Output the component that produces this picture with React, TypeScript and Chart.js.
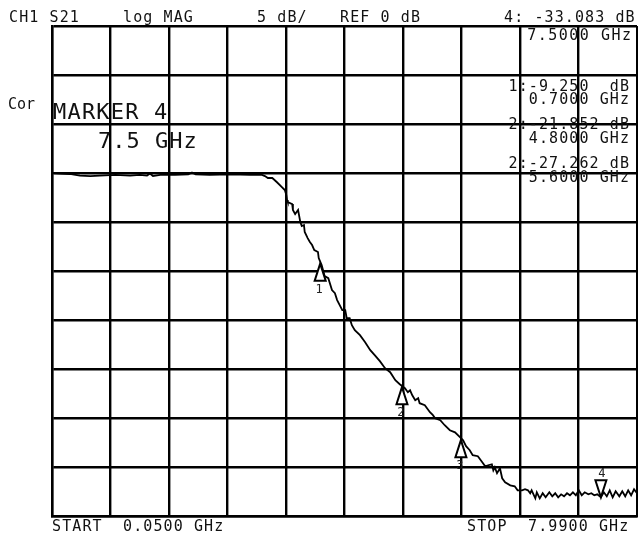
import React, { useEffect, useRef } from "react";
import { Chart, registerables } from "chart.js";

Chart.register(...registerables);

// Trace: S21 magnitude (dB) vs frequency (GHz)
const freqGHz = [
  0.05, 0.16, 0.29, 0.43, 0.57, 0.7, 0.91, 1.11, 1.24, 1.34, 1.38, 1.42, 1.52, 1.72, 1.9, 1.95, 2.0, 2.19, 2.47, 2.74,
  2.9, 2.94, 2.98, 3.04, 3.1, 3.17, 3.21, 3.23, 3.24, 3.25, 3.31, 3.32, 3.35, 3.39, 3.42, 3.44, 3.47, 3.48, 3.52, 3.55,
  3.58, 3.61, 3.66, 3.67, 3.71, 3.75, 3.8, 3.85, 3.89, 3.92, 3.99, 4.03, 4.05, 4.09, 4.12, 4.16, 4.23, 4.3, 4.37, 4.43,
  4.5, 4.57, 4.64, 4.71, 4.77, 4.84, 4.88, 4.91, 4.94, 4.98, 5.02, 5.04, 5.11, 5.18, 5.22, 5.25, 5.32, 5.38, 5.45, 5.52,
  5.59, 5.63, 5.67, 5.72, 5.76, 5.83, 5.89, 5.93, 5.97, 6.02, 6.04, 6.06, 6.09, 6.13, 6.16, 6.2, 6.27, 6.33, 6.37, 6.43,
  6.47, 6.51, 6.54, 6.56, 6.61, 6.63, 6.67, 6.71, 6.75, 6.8, 6.84, 6.88, 6.92, 6.96, 7.0, 7.04, 7.08, 7.12, 7.16, 7.2,
  7.24, 7.28, 7.33, 7.37, 7.41, 7.45, 7.5, 7.54, 7.58, 7.62, 7.66, 7.7, 7.75, 7.79, 7.83, 7.87, 7.91, 7.95, 7.99,
];
const s21dB = [
  0.0, -0.05, -0.1, -0.26, -0.31, -0.26, -0.2, -0.26, -0.2, -0.26, -0.05, -0.31, -0.2, -0.2, -0.15, 0.05, -0.15, -0.2, -0.15, -0.2,
  -0.2, -0.31, -0.51, -0.51, -0.92, -1.43, -1.74, -2.25, -2.76, -2.96, -3.17, -3.78, -4.19, -3.78, -5.0, -5.41, -5.31, -6.02, -6.64, -7.04,
  -7.35, -7.86, -8.07, -8.68, -9.4, -10.52, -10.73, -11.95, -12.26, -12.97, -13.99, -13.99, -14.81, -14.81, -15.53, -16.04, -16.55, -17.26, -18.08, -18.59,
  -19.2, -19.92, -20.33, -21.14, -21.55, -21.96, -22.37, -22.17, -22.68, -23.19, -22.98, -23.49, -23.7, -24.41, -24.71, -25.03, -25.23, -25.74, -26.25, -26.46,
  -26.97, -27.27, -27.88, -28.29, -28.8, -28.9, -29.52, -29.93, -29.82, -29.72, -30.34, -30.03, -30.64, -30.13, -31.15, -31.56, -31.87, -31.97, -32.38, -32.38,
  -32.27, -32.38, -32.68, -32.38, -33.2, -32.58, -33.2, -32.68, -33.09, -32.58, -32.99, -32.68, -33.09, -32.79, -32.99, -32.68, -32.89, -32.58, -32.89, -32.38,
  -32.89, -32.58, -32.79, -32.68, -32.89, -32.79, -33.08, -32.58, -32.99, -32.38, -33.09, -32.48, -32.99, -32.48, -32.99, -32.38, -32.89, -32.27, -32.68,
];

// Markers
const markerNumbers = ["1", "2", "3", "4"];
const markerFreqGHz = [3.69, 4.8, 5.6, 7.5];
const markerDB = [-9.25, -21.852, -27.262, -33.083];
const markerPointsDown = [false, false, false, true];

// Axis settings
const startGHz = 0.05;
const stopGHz = 7.99;
const refDB = 0;
const dbPerDiv = 5;
const divisions = 10;
const refDivisionFromTop = 3;

// Text labels
const headerLabels = ["CH1 S21", "log MAG", "5 dB/", "REF 0 dB", "4: -33.083 dB"];
const activeMarkerFreqLabel = "7.5000 GHz";
const markerReadouts = ["1:-9.250  dB", "0.7000 GHz", "2:-21.852 dB", "4.8000 GHz", "2:-27.262 dB", "5.6000 GHz"];
const corLabel = "Cor";
const markerTitle = "MARKER 4";
const markerFreqBig = "7.5 GHz";
const startLabels = ["START", "0.0500 GHz"];
const stopLabels = ["STOP", "7.9900 GHz"];

const MONO = '"DejaVu Sans Mono", monospace';

export default function App() {
  const canvasRef = useRef<HTMLCanvasElement | null>(null);

  useEffect(() => {
    const canvas = canvasRef.current;
    if (!canvas) return;

    const yMax = refDB + refDivisionFromTop * dbPerDiv;
    const yMin = yMax - divisions * dbPerDiv;

    const drawText = (
      ctx: CanvasRenderingContext2D,
      text: string,
      x: number,
      y: number,
      size: number,
      spacing: number,
      align: CanvasTextAlign = "left"
    ) => {
      ctx.save();
      ctx.font = `${size}px ${MONO}`;
      (ctx as any).letterSpacing = `${spacing}px`;
      ctx.fillStyle = "#111";
      ctx.textBaseline = "alphabetic";
      let xx = x;
      if (align === "right") {
        const w = ctx.measureText(text).width - spacing;
        xx = x - w;
      }
      ctx.textAlign = "left";
      ctx.fillText(text, xx, y);
      ctx.restore();
    };

    const overlay = {
      id: "vnaOverlay",
      afterDatasetsDraw(chart: any) {
        const ctx: CanvasRenderingContext2D = chart.ctx;
        const xs = chart.scales.x;
        const ys = chart.scales.y;
        for (let i = 0; i < markerNumbers.length; i++) {
          const px = xs.getPixelForValue(markerFreqGHz[i]);
          const py = ys.getPixelForValue(markerDB[i]);
          const h = 17;
          const hw = 5.5;
          ctx.save();
          ctx.beginPath();
          if (markerPointsDown[i]) {
            ctx.moveTo(px, py);
            ctx.lineTo(px - hw, py - h);
            ctx.lineTo(px + hw, py - h);
          } else {
            ctx.moveTo(px, py);
            ctx.lineTo(px - hw, py + h);
            ctx.lineTo(px + hw, py + h);
          }
          ctx.closePath();
          ctx.fillStyle = "#fff";
          ctx.fill();
          ctx.lineWidth = 2;
          ctx.strokeStyle = "#000";
          ctx.stroke();
          ctx.font = `12px ${MONO}`;
          ctx.fillStyle = "#222";
          ctx.textAlign = "center";
          ctx.textBaseline = "alphabetic";
          if (markerPointsDown[i]) {
            ctx.fillText(markerNumbers[i], px + 1, py - h - 3);
          } else {
            ctx.fillText(markerNumbers[i], px - 1, py + h + 12);
          }
          ctx.restore();
        }
      },
      afterDraw(chart: any) {
        const ctx: CanvasRenderingContext2D = chart.ctx;
        const hx = [9, 123, 257, 340, 504];
        headerLabels.forEach((t, i) => drawText(ctx, t, hx[i], 22, 15, 1.1));
        drawText(ctx, activeMarkerFreqLabel, 631, 40, 15, 1.5, "right");
        const ry = [91, 104, 129, 143, 168, 182];
        markerReadouts.forEach((t, i) => drawText(ctx, t, 629, ry[i], 15, 1.1, "right"));
        drawText(ctx, corLabel, 8, 109, 15, 0);
        drawText(ctx, markerTitle, 53, 119, 22, 1.2);
        drawText(ctx, markerFreqBig, 98, 148, 22, 1.0);
        drawText(ctx, startLabels[0], 52, 531, 15, 1.1);
        drawText(ctx, startLabels[1], 123, 531, 15, 1.1);
        drawText(ctx, stopLabels[0], 467, 531, 15, 1.1);
        drawText(ctx, stopLabels[1], 528, 531, 15, 1.1);
      },
    };

    const chart = new Chart(canvas, {
      type: "scatter",
      data: {
        datasets: [
          {
            data: freqGHz.map((f, i) => ({ x: f, y: s21dB[i] })),
            showLine: true,
            borderColor: "#000",
            borderWidth: 1.8,
            pointRadius: 0,
            tension: 0,
          },
        ],
      },
      options: {
        animation: false,
        responsive: false,
        devicePixelRatio: 1,
        layout: { padding: { left: 52, top: 26, right: 1, bottom: 17 } },
        plugins: { legend: { display: false }, tooltip: { enabled: false }, title: { display: false } },
        scales: {
          x: {
            type: "linear",
            min: startGHz,
            max: stopGHz,
            afterBuildTicks: (scale: any) => {
              const ticks = [];
              for (let i = 0; i <= divisions; i++) {
                ticks.push({ value: startGHz + ((stopGHz - startGHz) * i) / divisions });
              }
              scale.ticks = ticks;
            },
            afterFit: (scale: any) => {
              scale.height = 0;
            },
            ticks: { display: false },
            grid: { color: "#000", lineWidth: 2.4, drawTicks: false },
            border: { color: "#000", width: 2.4 },
          },
          y: {
            type: "linear",
            min: yMin,
            max: yMax,
            ticks: { display: false, stepSize: dbPerDiv },
            afterFit: (scale: any) => {
              scale.width = 0;
            },
            grid: { color: "#000", lineWidth: 2.4, drawTicks: false },
            border: { color: "#000", width: 2.4 },
          },
        },
      },
      plugins: [overlay],
    });

    return () => chart.destroy();
  }, []);

  return (
    <div style={{ position: "fixed", left: 0, top: 0, width: 638, height: 533, background: "#fff" }}>
      <canvas ref={canvasRef} width={638} height={533} style={{ width: 638, height: 533, display: "block" }} />
    </div>
  );
}
